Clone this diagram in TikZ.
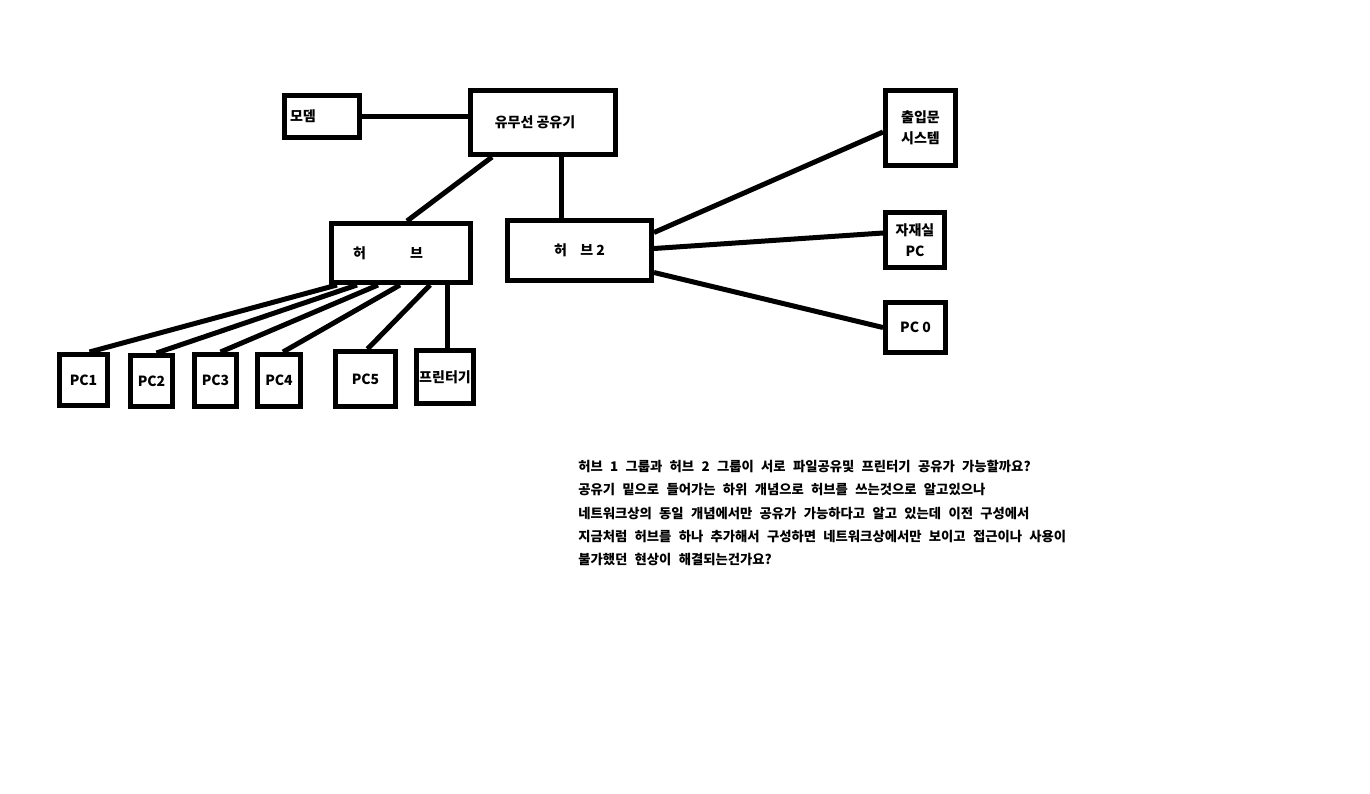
\documentclass[tikz,border=0pt]{standalone}
\usepackage{fontspec}
\setmainfont{Noto Sans CJK KR}
\newfontfamily\questionfont{Noto Sans CJK KR}[WordSpace=2.4]
\usetikzlibrary{positioning, calc}

\begin{document}
\begin{tikzpicture}[
		x=0.75pt, y=-0.75pt,
		box/.style={draw, line width=3.75pt, inner sep=0pt, align=center, font=\fontsize{10.5}{15.75}\selectfont\bfseries},
		boxsize/.style 2 args={minimum width=#1*0.75pt, minimum height=#2*0.75pt},
		wire/.style={line width=3.75pt},
		note/.style={align=left, inner sep=0pt, font=\questionfont\fontsize{10}{17.5}\selectfont\bfseries}
		]
		\useasboundingbox (0,0) rectangle (1370,793);
		% Router and hubs

		\node[box, boxsize={75}{42}, text width=48pt, inner xsep=4pt, align=left] (modem) at (322,116.5) {모뎀};
		\node[box, boxsize={145}{64}] (router) at (543,122.5) {유무선 공유기\hspace{12pt}};
		\node[box, boxsize={139}{59}] (hubA) at (401,253) {허\hspace{33pt}브\hspace{19.5pt}};
		\node[box, boxsize={144}{60}] (hubB) at (579.5,250.5) {허\hspace{10pt}브 2};

		% Devices on hub 2
		\node[box, boxsize={70}{75}] (door) at (920.5,128) {출입문\\시스템};
		\node[box, boxsize={59}{55}] (store) at (915,240) {자재실\\PC};
		\node[box, boxsize={60}{50}] (pc0) at (915.5,327.5) {PC 0};

		% Devices on hub 1
		\node[box, boxsize={48}{51}] (pc1) at (83.5,380) {PC1};
		\node[box, boxsize={42}{51}] (pc2) at (151.5,381) {PC2};
		\node[box, boxsize={42}{52}] (pc3) at (215.5,380.5) {PC3};
		\node[box, boxsize={43}{52}] (pc4) at (279,380.5) {PC4};
		\node[box, boxsize={60}{55}] (pc5) at (365.5,379) {PC5};
		\node[box, boxsize={57}{53}] (printer) at (445,377) {프린터기};

		\coordinate (rb) at ($(router.south)+(18,0)$);
		\coordinate (hp) at ($(hubA.south)+(46,0)$);

		\draw[wire] (modem.east) -- (modem.east -| router.west);
		\draw[wire] ($(router.south)+(-51,0)$) -- ($(hubA.north)+(6,0)$);
		\draw[wire] (rb) -- (rb |- hubB.north);

		\foreach \pc/\dx/\ex in {pc1/-64/6, pc2/-44/5, pc3/-23/5, pc4/-1/4, pc5/29/2}
			\draw[wire] ($(hubA.south)+(\dx,0)$) -- ($(\pc.north)+(\ex,0)$);
		\draw[wire] (hp) -- (hp |- printer.north);

		\draw[wire] ($(hubB.east)+(0,-18)$) -- ($(door.west)+(0,4)$);
		\draw[wire] ($(hubB.east)+(0,-2)$) -- ($(store.west)+(0,-7)$);
		\draw[wire] ($(hubB.east)+(0,22)$) -- (pc0.west);

		% Question text
		\node[note, anchor=north west] (question) at (578,460) {%
			허브 1 그룹과 허브 2 그룹이 서로 파일공유및 프린터기 공유가 가능할까요?\\
			공유기 밑으로 들어가는 하위 개념으로 허브를 쓰는것으로 알고있으나\\
			네트워크상의 동일 개념에서만 공유가 가능하다고 알고 있는데 이전 구성에서\\
			지금처럼 허브를 하나 추가해서 구성하면 네트워크상에서만 보이고 접근이나 사용이\\
			불가했던 현상이 해결되는건가요?};
	\end{tikzpicture}
\end{document}
